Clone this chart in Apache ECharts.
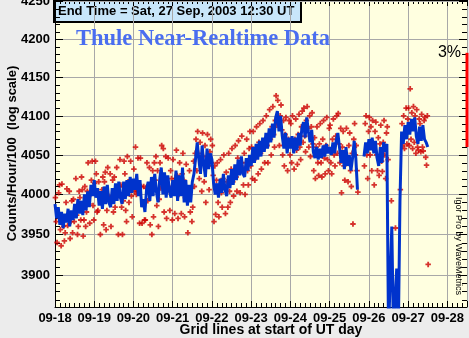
<!DOCTYPE html>
<html><head><meta charset="utf-8">
<script src="https://cdn.jsdelivr.net/npm/echarts@6/dist/echarts.min.js"></script>
<style>html,body{margin:0;padding:0;background:#ececec;}#c{width:469px;height:338px;}</style>
</head><body><div id="c"></div>
<script>
// ---- data ----
const dayLabels = ['09-18','09-19','09-20','09-21','09-22','09-23','09-24','09-25','09-26','09-27','09-28'];
const yMajorTicks = [3900,3950,4000,4050,4100,4150,4200,4250];
const yMinorTicks = [3870,3880,3890,3910,3920,3930,3940,3960,3970,3980,3990,4010,4020,4030,4040,4060,4070,4080,4090,4110,4120,4130,4140,4160,4170,4180,4190,4210,4220,4230,4240];
// hourly means (blue), starting 18 Sep 00 UT
const hourlyCounts = [
3988,3970,3984,3962,3978,3958,3976,3965,3982,3960,3980,3968,3988,3970,3994,3976,3992,3974,4000,3980,4004,3984,4012,3998,
4018,3996,4008,3986,4004,3982,4010,3988,4012,3990,3984,4008,3988,4014,3992,4016,3996,3988,4016,3994,4018,3998,4022,4002,
4020,4006,4026,3998,4018,3984,3994,3978,4006,4016,3992,4022,3998,4026,4004,3990,4018,4034,4000,4028,3996,4024,4004,3996,
4018,3998,4030,3992,4024,3998,4034,3990,4018,3986,4012,3990,4016,4026,4046,4066,4044,4026,4062,4038,4022,4058,4032,4052,
4044,4014,4000,4014,3996,4020,4002,4026,4006,3998,4024,4008,4032,4012,4038,4018,4044,4024,4048,4026,4022,4046,4030,4050,
4036,4060,4040,4064,4044,4068,4048,4072,4054,4078,4058,4084,4066,4090,4072,4098,4106,4080,4100,4074,4058,4078,4052,4072,
4058,4074,4052,4072,4056,4078,4062,4084,4092,4072,4098,4080,4066,4082,4054,4046,4060,4044,4058,4046,4062,4048,4064,4052,
4060,4050,4066,4052,4068,4078,4060,4040,4056,4032,4060,4036,4050,4030,4046,4068,4046,4006,null,null,null,4048,4066,4052,
4070,4056,4072,4052,4068,4046,4036,4060,4040,4066,4054,4064,3830,3830,3960,3830,3830,3908,3830,3992,4080,4064,4088,4070,
4092,4076,4096,4080,4098,4074,4064,4086,4068,4088,4070,4066,4060
];
// half-hourly counts (red points)
const rawCounts = [
3996,3966,3940,3973,4002,4012,3956,3936,4013,3966,3960,3942,3952,3990,4007,3961,3972,4004,3945,3966,3992,3952,3994,3966,3974,4020,3974,3950,3960,4004,3996,3968,4022,4006,3948,3968,4010,3960,3978,4004,4040,3988,3964,4000,4018,4042,3986,3968,
4014,4042,4026,3978,3980,4016,4000,3950,3994,4006,4022,3962,4016,4028,3956,3980,4034,3998,3994,4026,3960,3996,4018,3978,4022,3984,3996,4034,4000,3950,4010,4044,4012,3984,3950,3992,4042,4026,3980,3966,4048,4016,3990,4016,4042,3998,3972,4014,
4032,4004,4060,4000,4004,4046,4004,3964,4046,4010,3964,3988,4010,3968,3968,4008,4040,3992,4012,4034,3962,4002,3950,4030,3972,4040,4018,4048,3986,4030,3960,3994,4040,4008,4062,4022,4058,3978,4016,4048,3970,4004,4046,4010,3980,4030,4020,3968,
4044,4010,3976,4020,4056,4024,3970,4000,4040,4012,3976,4026,4052,4018,3972,3996,4038,4004,3952,3994,4030,3978,4008,3966,3984,4042,4010,4052,4070,4030,4080,4052,4020,4066,4046,4004,4078,4048,4016,4062,3990,4040,4076,4036,4006,4054,4070,4040,
4062,4024,3966,4036,3975,4018,4040,3990,3972,4008,4044,4002,3984,4020,4050,4010,3976,4028,4016,3984,4052,4004,3990,4032,4058,4016,3998,4030,4062,4022,4004,4046,4068,4030,4002,4040,4074,4034,4012,4052,4000,4040,4070,4030,4012,4058,4080,4036,
4060,4020,4080,4044,4018,4056,4086,4050,4026,4066,4090,4052,4032,4064,4094,4060,4040,4070,4100,4062,4040,4076,4108,4070,4050,4086,4112,4076,4060,4094,4126,4088,4120,4090,4062,4100,4114,4082,4050,4094,4036,4076,4098,4060,4030,4070,4094,4050,
4090,4040,4100,4060,4032,4070,4096,4056,4038,4076,4102,4060,4044,4086,4106,4066,4110,4074,4054,4094,4112,4084,4060,4100,4048,4086,4104,4064,4030,4072,4020,4060,4086,4040,4024,4064,4090,4040,4022,4070,4094,4046,4026,4062,4098,4044,4030,4084,
4088,4040,4026,4070,4096,4050,4036,4074,4100,4052,4103,4064,4040,4084,4002,4060,4080,4036,4018,4052,4084,4044,4016,4062,4078,4030,4010,4052,3963,4070,4090,4050,4062,4030,4003,null,null,null,null,null,null,null,4036,4090,4100,4050,4020,4080,
4098,4050,4086,4030,4094,4060,4012,4080,4092,4050,4030,4072,4024,4064,4088,4042,4029,4066,4094,4050,4020,4078,4086,4044,null,null,null,3992,null,null,null,null,3958,null,null,null,null,null,4006,null,4090,4062,4100,4058,4078,4110,4064,4096,
4110,4062,4135,4070,4104,4058,4112,4066,4100,4052,4108,4060,4056,4096,4090,4054,4102,4060,4055,4094,4098,4047,4037,4100,3913
];
const scaleBar = [4060, 4182]; // 3% of the log scale
const scaleBarLabel = '3%';
const titleText = 'End Time = Sat, 27 Sep, 2003 12:30 UT';
const subTitle = 'Thule Near-Realtime Data';
const yName = 'Counts/Hour/100  (log scale)';
const xName = 'Grid lines at start of UT day';
const credit = 'Igor Pro by WaveMetrics';

// ---- build ----
const lineData = hourlyCounts.map((v, i) => [i / 24, v]);
const rawData = [];
rawCounts.forEach((v, i) => { if (v !== null) rawData.push([(i + 0.5) / 48, v]); });
const tickData = yMajorTicks.map(v => [0, v, 1]).concat(yMinorTicks.map(v => [0, v, 0]));

const NARROW = '"Liberation Sans Narrow","Arial Narrow","Liberation Sans",sans-serif';
const chart = echarts.init(document.getElementById('c'), null, {renderer: 'canvas'});
const xAxisBase = {
  type: 'value', min: 0, max: 10.5, interval: 1,
  axisLine: {show: true, lineStyle: {color: '#000', width: 1}},
  axisTick: {show: true, inside: true, length: 6, lineStyle: {color: '#000'}},
  minorTick: {show: true, splitNumber: 8, length: 4, lineStyle: {color: '#000'}},
};
chart.setOption({
  animation: false,
  backgroundColor: '#ececec',
  grid: {left: 55, right: 2, top: 0, bottom: 31, show: true, backgroundColor: '#ffffe0', borderWidth: 0,
    containLabel: false, outerBoundsMode: 'none'},
  xAxis: [
    Object.assign({}, xAxisBase, {
      position: 'bottom',
      splitLine: {show: true, lineStyle: {color: '#a8a8a8', width: 1}},
      axisLabel: {show: true, margin: 5, color: '#000', fontWeight: 'bold', fontSize: 13, fontFamily: NARROW,
        formatter: v => Number.isInteger(v) ? dayLabels[v] : ''}
    }),
    Object.assign({}, xAxisBase, {
      position: 'top', splitLine: {show: false}, axisLabel: {show: false}
    })
  ],
  yAxis: [{
    type: 'log', min: 3861, max: 4252, position: 'left',
    axisLine: {show: true, lineStyle: {color: '#000', width: 1}},
    axisTick: {show: false}, axisLabel: {show: false}, splitLine: {show: false},
    name: yName, nameLocation: 'middle', nameGap: 36, nameRotate: 90,
    nameTextStyle: {color: '#000', fontWeight: 'bold', fontSize: 13, fontFamily: NARROW}
  }],
  series: [
    {
      type: 'custom', name: 'yticks', data: tickData, clip: false, silent: true, z: 1,
      encode: {x: 0, y: 1},
      renderItem: (params, api) => {
        const v = api.value(1), major = api.value(2);
        const cs = params.coordSys;
        const y = Math.round(api.coord([0, v])[1]) + 0.5;
        const x0 = cs.x, x1 = cs.x + cs.width;
        const len = major ? 8 : 5;
        const ch = [];
        if (major) ch.push({type: 'line', shape: {x1: x0, y1: y, x2: x1, y2: y}, style: {stroke: '#a8a8a8', lineWidth: 1}});
        ch.push({type: 'line', shape: {x1: x0, y1: y, x2: x0 + len, y2: y}, style: {stroke: '#000', lineWidth: 1}});
        ch.push({type: 'line', shape: {x1: x1 - len, y1: y, x2: x1, y2: y}, style: {stroke: '#000', lineWidth: 1}});
        if (major) ch.push({type: 'text', style: {text: String(v), x: x0 - 5, y: y, textAlign: 'right', textVerticalAlign: 'middle',
          font: 'bold 13px ' + NARROW, fill: '#000'}});
        return {type: 'group', children: ch};
      }
    },
    {
      type: 'scatter', name: 'raw', data: rawData, symbol: 'path://M2,0H4V2H6V4H4V6H2V4H0V2H2Z', symbolSize: 5.5,
      itemStyle: {color: '#cc0000'}, clip: true, z: 3
    },
    {
      type: 'line', name: 'hourly', data: lineData, showSymbol: false, symbol: 'none', connectNulls: false, clip: true,
      lineStyle: {color: '#0033cc', width: 3}, z: 4
    },
    {
      type: 'custom', name: 'scalebar', data: [[10.5, scaleBar[0], scaleBar[1]]], clip: false, z: 5,
      encode: {x: 0, y: [1, 2]},
      renderItem: (params, api) => {
        const p1 = api.coord([api.value(0), api.value(1)]);
        const p2 = api.coord([api.value(0), api.value(2)]);
        return {type: 'rect', shape: {x: p1[0] - 1.5, y: p2[1], width: 3, height: p1[1] - p2[1]}, style: {fill: '#ff0000'}};
      }
    }
  ],
  graphic: [
    {type: 'group', z: 100, children: [
      {type: 'rect', shape: {x: 54, y: -1, width: 247, height: 23}, style: {fill: '#c8e6fa', stroke: '#000', lineWidth: 2}},
      {type: 'text', x: 58, y: 11.5, style: {text: titleText, font: 'bold 13px "Liberation Sans",Arial,sans-serif', fill: '#000', textVerticalAlign: 'middle'}}
    ]},
    {type: 'text', z: 100, x: 76, y: 39.5, style: {text: subTitle, font: 'bold 22.5px "Liberation Serif","Times New Roman",serif', fill: '#4a6ef0', textVerticalAlign: 'middle'}},
    {type: 'text', z: 100, x: 461, y: 53, style: {text: scaleBarLabel, font: '16px "Liberation Sans",Arial,sans-serif', fill: '#000', textAlign: 'right', textVerticalAlign: 'middle'}},
    {type: 'text', z: 100, x: 458, y: 246, rotation: -Math.PI / 2, style: {text: credit, font: '9px ' + NARROW, fill: '#000', textAlign: 'center', textVerticalAlign: 'middle'}},
    {type: 'text', z: 100, x: 271, y: 330.5, style: {text: xName, font: 'bold 14px ' + NARROW, fill: '#000', textAlign: 'center', textVerticalAlign: 'middle'}}
  ]
});
</script>
</body></html>
